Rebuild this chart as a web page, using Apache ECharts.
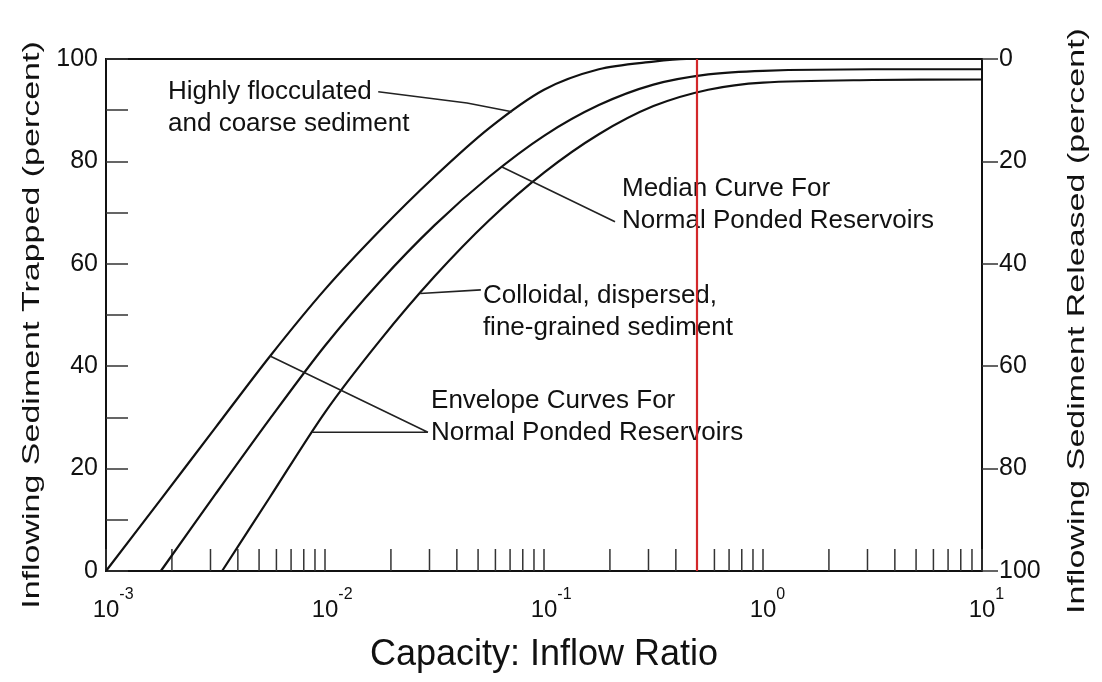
<!DOCTYPE html>
<html>
<head>
<meta charset="utf-8">
<script src="https://cdn.jsdelivr.net/npm/echarts@6/dist/echarts.min.js"></script>
<style>
  html, body { margin: 0; padding: 0; background: #ffffff; }
  #trap { width: 1102px; height: 682px; }
</style>
</head>
<body>
<div id="trap"></div>
<script>
// capacity:inflow ratio vs percent trapped
var upperCurve = [[0.001, 0], [0.00178, 14], [0.00316, 28], [0.00562, 42], [0.01, 55], [0.0178, 66.5],
    [0.0316, 77], [0.0562, 86.5], [0.1, 94], [0.178, 98], [0.316, 99.5], [0.447, 100], [10, 100]];
var medianCurve = [[0.00178, 0], [0.00316, 15], [0.00562, 29.8], [0.01, 44], [0.0178, 56.5], [0.0316, 67.5],
    [0.0562, 77], [0.1, 85], [0.178, 91], [0.316, 95], [0.562, 97], [1, 97.7], [3.16, 98], [10, 98]];
var lowerCurve = [[0.00339, 0], [0.00562, 14.5], [0.01, 31], [0.0178, 45], [0.0316, 57.5], [0.0562, 68.5],
    [0.1, 77.8], [0.178, 85.3], [0.316, 90.8], [0.562, 94], [1, 95.4], [3.16, 95.9], [10, 96]];

var redLineRatio = 0.5;

var minorTicks = [0.002, 0.003, 0.004, 0.005, 0.006, 0.007, 0.008, 0.009,
    0.02, 0.03, 0.04, 0.05, 0.06, 0.07, 0.08, 0.09,
    0.2, 0.3, 0.4, 0.5, 0.6, 0.7, 0.8, 0.9,
    2, 3, 4, 5, 6, 7, 8, 9];

var noteTexts = ['Highly flocculated\nand coarse sediment',
    'Median Curve For\nNormal Ponded Reservoirs',
    'Colloidal, dispersed,\nfine-grained sediment',
    'Envelope Curves For\nNormal Ponded Reservoirs'];
var noteAnchors = [[0.00192, 90.5], [0.227, 71.5], [0.0526, 50.6], [0.0305, 30.2]];

// leader lines from the notes to the curves
var leaderFloc = [[0.0175, 93.6], [0.0445, 91.4], [0.0714, 89.7]];
var leaderMedian = [[0.0643, 78.9], [0.211, 68.2]];
var leaderColloid = [[0.0272, 54.2], [0.0515, 54.9]];
var leaderEnvelope = [[0.00561, 42], [0.0295, 27.1], [0.00873, 27.1]];

var leftName = 'Inflowing Sediment Trapped (percent)';
var rightName = 'Inflowing Sediment Released (percent)';
var xName = 'Capacity: Inflow Ratio';

var ink = '#111111';
var font = 'Liberation Sans';

var dom = document.getElementById('trap');
var myChart = echarts.init(dom);

function curve(data) {
    return {
        type: 'line',
        data: data,
        showSymbol: false,
        smooth: 0.3,
        silent: true,
        lineStyle: { color: ink, width: 2.2 },
        z: 3
    };
}

function leader(data) {
    return {
        type: 'line',
        data: data,
        showSymbol: false,
        silent: true,
        lineStyle: { color: '#222', width: 1.6 },
        z: 3
    };
}

var median = curve(medianCurve);
median.markLine = {
    silent: true,
    symbol: 'none',
    label: { show: false },
    lineStyle: { color: '#d3282a', width: 2.2, type: 'solid', opacity: 1 },
    data: [{ xAxis: redLineRatio }]
};

// the rotated axis titles are squeezed across their height in the scan
function sideTitle(text, x, y) {
    return {
        type: 'text',
        x: x,
        y: y,
        rotation: Math.PI / 2,
        scaleY: 0.7,
        silent: true,
        style: {
            text: text,
            fontSize: 34,
            fontFamily: font,
            fill: ink,
            align: 'center',
            verticalAlign: 'middle'
        }
    };
}

var option = {
    backgroundColor: '#ffffff',
    animation: false,
    textStyle: { fontFamily: font, color: ink },
    grid: {
        left: 106, right: 120, top: 59, bottom: 111,
        show: true, borderColor: ink, borderWidth: 2
    },
    graphic: [
        sideTitle(leftName, 32, 325),
        sideTitle(rightName, 1077, 321)
    ],
    xAxis: {
        type: 'log',
        logBase: 10,
        min: 0.001,
        max: 10,
        name: xName,
        nameLocation: 'middle',
        nameGap: 66,
        nameTextStyle: { fontSize: 36, color: ink, fontFamily: font },
        axisLine: { lineStyle: { color: ink, width: 2 } },
        axisTick: { inside: true, length: 22, lineStyle: { color: '#333', width: 1.5 } },
        minorTick: { show: false },
        splitLine: { show: false },
        axisLabel: {
            margin: 16,
            formatter: function (v) {
                var e = Math.round(Math.log10(v));
                return '{h|' + e + '}{b|10}{s|' + e + '}';
            },
            rich: {
                b: { fontSize: 24, lineHeight: 46, color: ink, fontFamily: font },
                s: { fontSize: 16, lineHeight: 16, verticalAlign: 'top', color: ink, fontFamily: font },
                h: { fontSize: 16, lineHeight: 16, verticalAlign: 'top', color: 'rgba(0,0,0,0)', fontFamily: font }
            }
        }
    },
    yAxis: [{
        type: 'value',
        min: 0,
        max: 100,
        interval: 20,
        axisLine: { show: true, lineStyle: { color: ink, width: 2 } },
        axisTick: { inside: true, length: 22, lineStyle: { color: '#333', width: 1.5 } },
        minorTick: { show: true, splitNumber: 2, length: 22, lineStyle: { color: '#333', width: 1.5 } },
        splitLine: { show: false },
        axisLabel: { fontSize: 25, color: ink, margin: 8, fontFamily: font }
    }, {
        type: 'value',
        position: 'right',
        inverse: true,
        min: 0,
        max: 100,
        interval: 20,
        axisLine: { show: true, lineStyle: { color: ink, width: 2 } },
        axisTick: { inside: false, length: 16, lineStyle: { color: '#333', width: 1.5 } },
        splitLine: { show: false },
        axisLabel: { fontSize: 25, color: ink, margin: 17, fontFamily: font }
    }],
    series: [
        curve(upperCurve),
        median,
        curve(lowerCurve),
        leader(leaderFloc),
        leader(leaderMedian),
        leader(leaderColloid),
        leader(leaderEnvelope),
        {
            type: 'scatter',
            silent: true,
            symbol: 'rect',
            symbolSize: [1.5, 22],
            symbolOffset: [0, -11],
            itemStyle: { color: '#333', opacity: 1 },
            data: minorTicks.map(function (v) { return [v, 0]; }),
            z: 2
        },
        {
            type: 'scatter',
            silent: true,
            symbolSize: 0,
            itemStyle: { color: '#ffffff', opacity: 1 },
            label: {
                show: true,
                position: 'right',
                distance: 0,
                align: 'left',
                fontSize: 26,
                lineHeight: 32,
                color: ink,
                opacity: 1,
                fontFamily: font
            },
            data: noteAnchors.map(function (p, i) {
                return { value: p, label: { formatter: noteTexts[i] } };
            }),
            z: 4
        }
    ]
};

if (option && typeof option === 'object') {
    myChart.setOption(option, true);
}
</script>
</body>
</html>
